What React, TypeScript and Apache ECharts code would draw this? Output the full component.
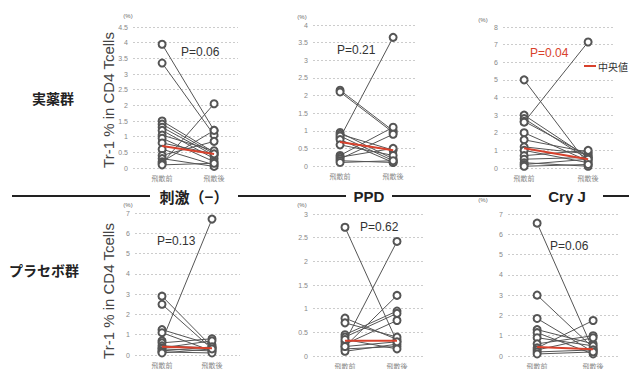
import React, { useEffect, useRef } from "react";
import * as echarts from "echarts";

const categories = ["飛散前", "飛散後"];
const rowLabels = ["実薬群", "プラセボ群"];
const stimLabels = ["刺激（−）", "PPD", "Cry J"];
const pLabels = ["P=0.06", "P=0.21", "P=0.04", "P=0.13", "P=0.62", "P=0.06"];
const yMax = [4.5, 4, 8, 7, 3, 7];
const yStep = [0.5, 0.5, 1, 1, 0.5, 1];

const p1Before = [3.95, 3.35, 1.5, 1.4, 1.3, 1.2, 1.05, 0.95, 0.8, 0.6, 0.4, 0.3, 0.2, 0.15, 0.1];
const p1After = [1.2, 1.05, 0.5, 0.45, 0.4, 0.3, 0.55, 0.2, 0.45, 0.1, 0.85, 0.05, 1.2, 2.05, 0.15];
const p2Before = [0.8, 2.15, 2.1, 0.95, 0.9, 0.85, 0.75, 0.6, 0.3, 0.25, 0.2, 0.15, 0.1];
const p2After = [3.65, 1.0, 0.95, 0.2, 0.45, 0.15, 0.1, 0.3, 1.1, 0.5, 0.9, 0.1, 0.15];
const p3Before = [5.0, 3.0, 2.8, 2.65, 2.6, 2.0, 1.6, 1.2, 1.0, 0.7, 0.5, 0.3, 0.2, 0.1];
const p3After = [0.2, 0.6, 0.5, 0.7, 7.15, 0.4, 0.9, 0.8, 0.3, 1.0, 0.6, 0.1, 0.5, 0.2];
const p4Before = [2.9, 2.5, 1.25, 1.1, 0.7, 0.6, 0.45, 0.35, 0.3, 0.2, 0.15, 0.1];
const p4After = [0.4, 0.3, 0.5, 0.2, 6.7, 0.8, 0.35, 0.7, 0.2, 0.4, 0.1, 0.3];
const p5Before = [2.72, 0.3, 0.2, 0.8, 0.7, 0.45, 0.4, 0.25, 0.15, 0.1, 0.35, 0.2];
const p5After = [0.3, 2.42, 1.28, 0.35, 0.4, 0.95, 0.9, 0.75, 0.2, 0.25, 0.15, 0.3];
const p6Before = [6.55, 3.0, 1.85, 1.3, 1.15, 0.9, 0.6, 0.4, 0.3, 0.2, 0.1];
const p6After = [0.3, 0.4, 0.2, 0.6, 0.1, 0.5, 1.0, 1.75, 0.9, 0.3, 0.2];

const medBefore = [0.7, 0.68, 1.12, 0.41, 0.32, 0.44];
const medAfter = [0.45, 0.45, 0.5, 0.33, 0.32, 0.33];

const befores = [p1Before, p2Before, p3Before, p4Before, p5Before, p6Before];
const afters = [p1After, p2After, p3After, p4After, p5After, p6After];

// layout (pixels)
const grids = [
  { left: 133, top: 27, width: 105, height: 141 },
  { left: 313, top: 25, width: 104, height: 141 },
  { left: 503, top: 27, width: 112, height: 141 },
  { left: 135, top: 213, width: 105, height: 142 },
  { left: 313, top: 214, width: 110, height: 143 },
  { left: 508, top: 214, width: 112, height: 143 },
];
const xRange = [
  [-0.56, 1.46],
  [-0.51, 1.45],
  [-0.33, 1.42],
  [-0.54, 1.56],
  [-0.615, 1.5],
  [-0.52, 1.48],
];
const pPos = [
  [181, 52], [337, 50], [530, 53], [157, 241], [360, 227], [550, 246],
];
const unitPos = [
  [128, 16], [302, 17], [483, 20], [128, 205], [302, 205], [483, 200],
];

const FONT = "'Liberation Sans', 'Noto Sans CJK JP', sans-serif";
const JP = "'Noto Sans CJK JP', sans-serif";

export default function App() {
  const ref = useRef<HTMLDivElement>(null);
  useEffect(() => {
    if (!ref.current) return;
    const chart = echarts.init(ref.current, undefined, { renderer: "svg" });
    const series: any[] = [];
    for (let i = 0; i < 6; i++) {
      const b = befores[i];
      const a = afters[i];
      for (let j = 0; j < b.length; j++) {
        series.push({
          type: "line",
          xAxisIndex: i,
          yAxisIndex: i,
          data: [[0, b[j]], [1, a[j]]],
          symbol: "emptyCircle",
          symbolSize: 7,
          itemStyle: { color: "#555", borderWidth: 1 },
          lineStyle: { color: "#555", width: 1 },
          z: 3,
          silent: true,
        });
      }
      series.push({
        type: "line",
        xAxisIndex: i,
        yAxisIndex: i,
        data: [[0, medBefore[i]], [1, medAfter[i]]],
        symbol: "none",
        lineStyle: { color: "#d8412c", width: 2 },
        z: 4,
        silent: true,
      });
    }
    const graphic: any[] = [];
    pLabels.forEach((t, i) => {
      graphic.push({
        type: "text",
        x: pPos[i][0],
        y: pPos[i][1],
        style: {
          text: t,
          fill: i === 2 ? "#d8412c" : "#333",
          font: `12px ${FONT}`,
          textVerticalAlign: "middle",
        },
      });
    });
    unitPos.forEach((p) =>
      graphic.push({
        type: "text",
        x: p[0],
        y: p[1],
        style: {
          text: "(%)",
          fill: "#666",
          font: `6px ${FONT}`,
          textAlign: "center",
          textVerticalAlign: "middle",
        },
      })
    );
    // separator
    const segs = [[12, 150], [238, 346], [392, 531], [603, 629]];
    segs.forEach((s) =>
      graphic.push({
        type: "line",
        shape: { x1: s[0], y1: 196, x2: s[1], y2: 196 },
        style: { stroke: "#222", lineWidth: 2 },
      })
    );
    const titleX = [194, 369, 567];
    stimLabels.forEach((t, i) =>
      graphic.push({
        type: "text",
        x: titleX[i],
        y: 196,
        style: {
          text: t,
          fill: "#222",
          font: `bold 15px ${i === 0 ? JP : FONT}`,
          textAlign: "center",
          textVerticalAlign: "middle",
        },
      })
    );
    // row labels
    graphic.push({
      type: "text", x: 53, y: 98,
      style: { text: rowLabels[0], fill: "#222", font: `bold 14px ${JP}`, textAlign: "center", textVerticalAlign: "middle" },
    });
    graphic.push({
      type: "text", x: 44, y: 270,
      style: { text: rowLabels[1], fill: "#222", font: `bold 14px ${JP}`, textAlign: "center", textVerticalAlign: "middle" },
    });
    // y titles
    [[108, 100], [108, 291]].forEach((p) =>
      graphic.push({
        type: "text",
        x: p[0],
        y: p[1],
        rotation: Math.PI / 2,
        style: {
          text: "Tr-1 % in CD4 Tcells",
          fill: "#444",
          font: `15px ${FONT}`,
          textAlign: "center",
          textVerticalAlign: "middle",
        },
      })
    );
    // legend
    graphic.push({
      type: "line",
      shape: { x1: 584, y1: 66, x2: 596, y2: 66 },
      style: { stroke: "#d8412c", lineWidth: 2 },
    });
    graphic.push({
      type: "text", x: 598, y: 66,
      style: { text: "中央値", fill: "#333", font: `10px ${JP}`, textVerticalAlign: "middle" },
    });

    chart.setOption({
      animation: false,
      backgroundColor: "#fff",
      textStyle: { fontFamily: FONT },
      grid: grids.map((g) => ({ ...g, containLabel: false })),
      xAxis: grids.map((_, i) => ({
        type: "value",
        gridIndex: i,
        min: xRange[i][0],
        max: xRange[i][1],
        axisLine: { show: false },
        axisTick: { show: false },
        splitLine: { show: false },
        axisLabel: {
          customValues: [0, 1],
          formatter: (v: number) => (v === 0 ? categories[0] : categories[1]),
          fontSize: 7,
          color: "#888",
          fontFamily: JP,
          margin: 6,
        },
      })),
      yAxis: grids.map((_, i) => ({
        type: "value",
        gridIndex: i,
        min: 0,
        max: yMax[i],
        interval: yStep[i],
        axisLine: { show: false },
        axisTick: { show: false },
        axisLabel: { fontSize: 7, color: "#888", margin: 5 },
        splitLine: { lineStyle: { color: "#ccc", type: [2, 2], width: 1 } },
      })),
      series,
      graphic,
    });
    return () => chart.dispose();
  }, []);
  return (
    <div
      ref={ref}
      style={{ position: "fixed", left: 0, top: 0, width: 629, height: 369, background: "#fff" }}
    />
  );
}
